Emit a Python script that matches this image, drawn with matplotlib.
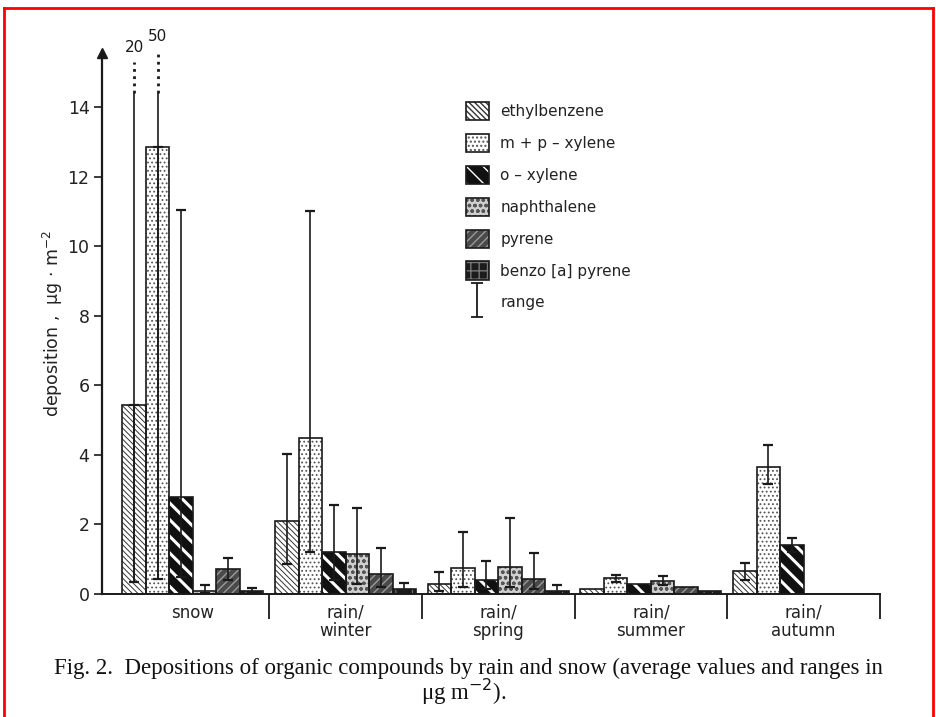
import numpy as np
import matplotlib
matplotlib.use("Agg")
import matplotlib.pyplot as plt
from matplotlib.patches import Patch
from matplotlib.lines import Line2D
from matplotlib.path import Path

# ---------------- data ----------------
categories = ["snow", "rain/\nwinter", "rain/\nspring", "rain/\nsummer", "rain/\nautumn"]
compounds = ["ethylbenzene", "m + p \u2013 xylene", "o \u2013 xylene", "naphthalene",
             "pyrene", "benzo [a] pyrene"]

ethylbenzene = [5.43, 2.10, 0.30, 0.15, 0.67]
mp_xylene    = [12.85, 4.48, 0.74, 0.45, 3.66]
o_xylene     = [2.79, 1.21, 0.40, 0.28, 1.40]
naphthalene  = [0.09, 1.15, 0.77, 0.38, 0.0]
pyrene       = [0.72, 0.57, 0.43, 0.20, 0.0]
benzopyrene  = [0.08, 0.14, 0.08, 0.10, 0.0]

nan = np.nan
ethylbenzene_lo = [0.34, 0.86, 0.10, nan, 0.40]
ethylbenzene_hi = [20.0, 4.02, 0.63, nan, 0.90]
mp_xylene_lo    = [0.43, 1.20, 0.20, 0.35, 3.16]
mp_xylene_hi    = [50.0, 11.0, 1.78, 0.55, 4.28]
o_xylene_lo     = [0.50, 0.40, 0.15, nan, 1.20]
o_xylene_hi     = [11.03, 2.56, 0.95, nan, 1.60]
naphthalene_lo  = [0.02, 0.30, 0.20, 0.25, nan]
naphthalene_hi  = [0.26, 2.47, 2.18, 0.52, nan]
pyrene_lo       = [0.40, 0.20, 0.15, nan, nan]
pyrene_hi       = [1.03, 1.32, 1.17, nan, nan]
benzopyrene_lo  = [0.02, 0.05, 0.02, nan, nan]
benzopyrene_hi  = [0.17, 0.32, 0.26, nan, nan]

yticks = [0, 2, 4, 6, 8, 10, 12, 14]

means = [ethylbenzene, mp_xylene, o_xylene, naphthalene, pyrene, benzopyrene]
lows = [ethylbenzene_lo, mp_xylene_lo, o_xylene_lo, naphthalene_lo, pyrene_lo, benzopyrene_lo]
highs = [ethylbenzene_hi, mp_xylene_hi, o_xylene_hi, naphthalene_hi, pyrene_hi, benzopyrene_hi]

# styles: (facecolor, hatch colour, hatch, hatch linewidth)
styles = [
    ("white",   "#333333", "\\\\\\\\\\\\", 0.7),
    ("white",   "#555555", "....", 0.8),
    ("#111111", "white",   "\\\\", 2.2),
    ("#cfcfcf", "#555555", "ooo", 0.9),
    ("#4a4a4a", "#9a9a9a", "////", 1.0),
    ("#1c1c1c", "#777777", "++", 0.8),
]

plt.rcParams["font.family"] = ["DejaVu Sans"]
fig = plt.figure(figsize=(9.36, 7.17), dpi=100)
ax = fig.add_axes([102 / 936, 1 - 594 / 717, (880 - 102) / 936, (594 - 53) / 717])

x = np.arange(len(categories))
w = 0.154
ytop = 15.55
clip_top = 14.4
ink = "#1a1a1a"

legend_handles = []
for i, (vals, lo, hi, st) in enumerate(zip(means, lows, highs, styles)):
    fc, hc, hatch, hlw = st
    xi = x + (i - 2.5) * w
    with plt.rc_context({"hatch.linewidth": hlw}):
        ax.bar(xi, vals, w, facecolor=fc, edgecolor=hc, hatch=hatch, linewidth=0, zorder=2)
        hp = Patch(facecolor=fc, edgecolor=hc, hatch=hatch, linewidth=0)
    ax.bar(xi, vals, w, fill=False, edgecolor=ink, linewidth=1.2, zorder=3)
    op = Patch(fill=False, edgecolor=ink, linewidth=1.2)
    legend_handles.append((hp, op))

    v = np.array(vals, float)
    l = np.array(lo, float)
    h = np.array(hi, float)
    hc_ = np.minimum(h, clip_top)
    m = ~np.isnan(h)
    over = m & (h > ytop)
    capped = m & ~over
    ax.errorbar(xi[capped], v[capped],
                yerr=[v[capped] - l[capped], h[capped] - v[capped]],
                fmt="none", ecolor=ink, elinewidth=1.2, capsize=3.5, capthick=1.6, zorder=4)
    if over.any():
        ax.errorbar(xi[over], v[over], yerr=[v[over] - l[over], hc_[over] - v[over]],
                    fmt="none", ecolor=ink, elinewidth=1.2, capsize=0, zorder=4)
        ax.errorbar(xi[over], v[over], yerr=[v[over] - l[over], np.zeros(over.sum())],
                    fmt="none", ecolor=ink, elinewidth=1.2, capsize=3.5, capthick=1.6,
                    zorder=4)
        for xx, hh in zip(xi[over], h[over]):
            top = 15.3 + 0.3 * np.log10(hh / 20.0) / np.log10(2.5)
            ax.vlines(xx, clip_top, top, colors=ink, linestyles=(0, (1.0, 1.6)),
                      linewidth=2.0, clip_on=False, zorder=4)
            ax.text(xx, top + 0.2, f"{hh:g}", ha="center", va="bottom", fontsize=11,
                    color=ink, clip_on=False)

ax.set_xlim(-0.595, 4.5)
ax.set_ylim(0, ytop)

for s in ["top", "right"]:
    ax.spines[s].set_visible(False)
ax.spines["left"].set_linewidth(1.6)
ax.spines["bottom"].set_linewidth(1.4)
ax.spines["left"].set_color(ink)
ax.spines["bottom"].set_color(ink)
ax.plot([0], [1], marker="^", markersize=7, color=ink, transform=ax.transAxes,
        clip_on=False)

ax.set_yticks(yticks)
ax.set_yticklabels([str(t) for t in yticks], fontsize=12.5, color="#222222")
ax.tick_params(axis="y", direction="out", length=6, width=1.2, pad=3, color=ink)

ax.set_xticks(x + 0.5)
ax.set_xticklabels([""] * len(x))
ax.tick_params(axis="x", which="major", direction="out", length=18, width=1.3, color=ink)
ax.set_xticks(x, minor=True)
ax.set_xticklabels(categories, minor=True, fontsize=12, color="#222222", linespacing=1.0)
ax.tick_params(axis="x", which="minor", length=0, pad=7)

ax.set_ylabel("deposition ,  \u03bcg \u00b7 m$^{-2}$", fontsize=12.5, color="#222222",
              labelpad=2)

# I-shaped symbol for the "range" legend entry
range_marker = Path([(-0.35, -1), (0.35, -1), (0, -1), (0, 1), (-0.35, 1), (0.35, 1)],
                    [Path.MOVETO, Path.LINETO, Path.MOVETO, Path.LINETO, Path.MOVETO,
                     Path.LINETO])
range_handle = Line2D([], [], linestyle="none", marker=range_marker, markersize=24,
                      markeredgewidth=1.3, markeredgecolor=ink, fillstyle="none")

leg = ax.legend(legend_handles + [range_handle], compounds + ["range"],
                loc="upper left", bbox_to_anchor=(466 / 936, 1 - 102 / 717),
                bbox_transform=fig.transFigure, frameon=False, fontsize=11,
                handlelength=1.5, handleheight=1.45, labelspacing=0.9,
                handletextpad=0.75, borderpad=0, borderaxespad=0)
for t in leg.get_texts():
    t.set_color("#222222")

# caption
fig.text(0.5, 1 - 668 / 717,
         "Fig. 2.  Depositions of organic compounds by rain and snow (average values and ranges in",
         ha="center", va="center", fontsize=16.5, family="Liberation Serif", color="#111111")
fig.text(0.495, 1 - 692 / 717, "\u03bcg m$^{-2}$).", ha="center", va="center",
         fontsize=16.5, family="Liberation Serif", color="#111111")

# red frame of the scan
for xs, ys in [([0.004, 0.004], [0.0, 0.989]), ([0.004, 0.997], [0.989, 0.989]),
               ([0.997, 0.997], [0.0, 0.989])]:
    fig.add_artist(Line2D(xs, ys, color="red", linewidth=2, transform=fig.transFigure))

fig.savefig("out.png", dpi=100)
